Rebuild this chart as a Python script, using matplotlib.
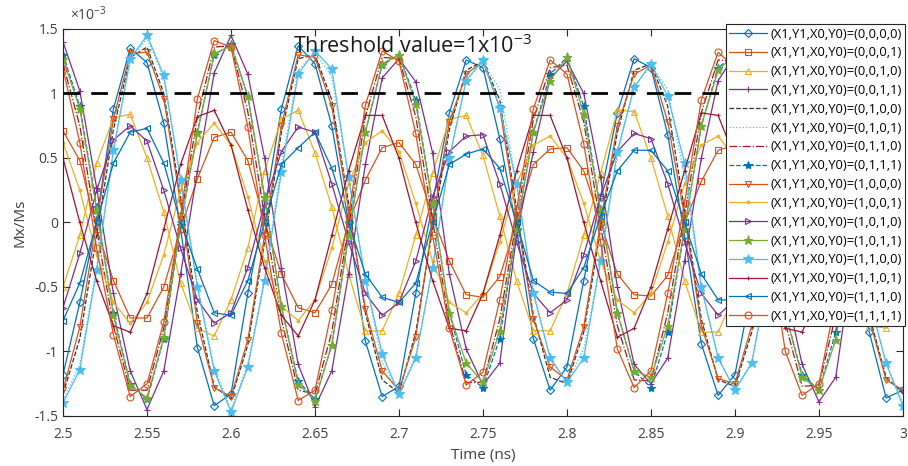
import numpy as np
import matplotlib.pyplot as plt

plt.rcParams['font.family'] = ['Open Sans', 'DejaVu Sans']
plt.rcParams['mathtext.fontset'] = 'custom'
plt.rcParams['mathtext.rm'] = 'Open Sans'
plt.rcParams['axes.unicode_minus'] = False

# time axis (ns), sampled every 10 ps
t = np.linspace(2.5, 3.0, 51)

# Mx/Ms in units of 1e-3
mx_0000 = [-1.18, -0.62, 0.02, 0.88, 1.35, 1.24, 0.77, -0.05, -0.97, -1.42,
           -1.33, -0.55, 0.10, 0.88, 1.37, 1.23, 0.75, 0.00, -0.92, -1.35,
           -1.27, -0.55, 0.15, 0.85, 1.26, 1.20, 0.65, -0.05, -0.90, -1.30,
           -1.12, -0.45, 0.20, 0.85, 1.27, 1.20, 0.68, -0.10, -0.94, -1.34,
           -1.18, -0.50, 0.15, 0.85, 1.25, 1.20, 0.65, -0.10, -0.85, -1.36,
           -1.30]
mx_0001 = [0.71, 0.48, -0.05, -0.45, -0.74, -0.74, -0.50, -0.05, 0.34, 0.66,
           0.70, 0.48, 0.00, -0.40, -0.66, -0.70, -0.48, 0.00, 0.33, 0.58,
           0.62, 0.45, 0.05, -0.30, -0.56, -0.58, -0.42, 0.00, 0.45, 0.57,
           0.58, 0.40, 0.00, -0.40, -0.56, -0.57, -0.41, 0.00, 0.32, 0.56,
           0.60, 0.40, 0.00, -0.40, -0.58, -0.58, -0.40, 0.00, 0.38, 0.58,
           0.62]
mx_0010 = [-0.50, -0.10, 0.46, 0.81, 0.84, 0.50, 0.08, -0.47, -0.82, -0.88,
           -0.60, -0.20, 0.40, 0.80, 0.87, 0.54, 0.12, -0.40, -0.84, -0.84,
           -0.55, -0.10, 0.38, 0.80, 0.83, 0.52, 0.05, -0.45, -0.84, -0.84,
           -0.55, -0.10, 0.38, 0.87, 0.86, 0.50, 0.05, -0.45, -0.85, -0.85,
           -0.55, -0.10, 0.38, 0.80, 0.82, 0.50, 0.05, -0.45, -0.80, -0.82,
           -0.55]
mx_0011 = [1.40, 1.02, 0.27, -0.55, -1.15, -1.45, -1.15, -0.40, 0.40, 1.16,
           1.45, 1.15, 0.50, -0.35, -1.10, -1.43, -1.15, -0.40, 0.45, 1.12,
           1.27, 1.09, 0.54, -0.40, -0.98, -1.26, -1.09, -0.10, 0.55, 1.12,
           1.25, 1.00, 0.35, -0.50, -1.10, -1.25, -1.05, -0.30, 0.50, 1.10,
           1.30, 1.05, 0.40, -0.50, -1.10, -1.39, -1.20, -0.30, 0.50, 1.10,
           1.30]
mx_0100 = [-1.33, -0.90, -0.10, 0.72, 1.28, 1.36, 1.00, 0.20, -0.70, -1.27,
           -1.37, -0.95, -0.15, 0.70, 1.27, 1.30, 0.95, 0.15, -0.70, -1.22,
           -1.32, -0.85, -0.05, 0.72, 1.18, 1.25, 0.95, 0.10, -0.72, -1.20,
           -1.25, -0.85, -0.05, 0.70, 1.18, 1.23, 0.90, 0.10, -0.75, -1.22,
           -1.27, -0.85, -0.05, 0.70, 1.18, 1.22, 0.90, 0.10, -0.72, -1.20,
           -1.32]
mx_0101 = [-1.38, -1.10, -0.35, 0.55, 1.25, 1.43, 1.12, 0.35, -0.48, -1.13,
           -1.45, -1.10, -0.43, 0.45, 1.18, 1.32, 1.13, 0.35, -0.45, -1.08,
           -1.33, -1.03, -0.35, 0.50, 1.10, 1.25, 1.03, 0.30, -0.53, -1.05,
           -1.24, -0.98, -0.30, 0.53, 1.05, 1.22, 1.03, 0.35, -0.50, -1.05,
           -1.30, -1.08, -0.40, 0.50, 1.08, 1.24, 1.00, 0.30, -0.58, -1.10,
           -1.40]
mx_0110 = [1.23, 0.75, -0.05, -0.80, -1.30, -1.30, -0.82, 0.02, 0.82, 1.36,
           1.37, 0.86, 0.05, -0.75, -1.30, -1.33, -0.85, -0.02, 0.82, 1.28,
           1.27, 0.82, 0.02, -0.78, -1.24, -1.24, -0.75, 0.02, 0.80, 1.20,
           1.22, 0.78, -0.02, -0.80, -1.22, -1.23, -0.70, 0.05, 0.85, 1.26,
           1.25, 0.75, -0.02, -0.78, -1.27, -1.26, -0.72, 0.05, 0.80, 1.25,
           1.25]
mx_0111 = [1.30, 0.90, 0.12, -0.70, -1.25, -1.37, -0.90, -0.02, 0.70, 1.30,
           1.38, 0.98, 0.20, -0.65, -1.23, -1.37, -0.95, -0.10, 0.70, 1.22,
           1.30, 0.95, 0.15, -0.70, -1.18, -1.28, -0.90, -0.05, 0.70, 1.15,
           1.28, 0.90, 0.10, -0.70, -1.15, -1.28, -0.85, -0.05, 0.75, 1.20,
           1.30, 0.90, 0.10, -0.70, -1.18, -1.30, -0.85, -0.05, 0.70, 1.20,
           1.30]
mx_1000 = [-1.30, -0.81, 0.00, 0.80, 1.31, 1.32, 0.96, 0.15, -0.78, -1.28,
           -1.35, -0.91, -0.10, 0.75, 1.30, 1.28, 0.90, 0.10, -0.67, -1.15,
           -1.30, -0.89, 0.00, 0.78, 1.15, 1.25, 0.89, 0.05, -0.75, -1.12,
           -1.22, -0.81, 0.00, 0.75, 1.15, 1.22, 0.78, 0.05, -0.80, -1.21,
           -1.25, -0.80, 0.00, 0.75, 1.20, 1.20, 0.85, 0.05, -0.75, -1.22,
           -1.30]
mx_1001 = [0.62, 0.25, -0.25, -0.62, -0.78, -0.62, -0.25, 0.25, 0.62, 0.77,
           0.60, 0.20, -0.30, -0.65, -0.76, -0.60, -0.20, 0.30, 0.62, 0.71,
           0.55, 0.15, -0.30, -0.62, -0.70, -0.55, -0.15, 0.30, 0.60, 0.67,
           0.50, 0.15, -0.30, -0.60, -0.70, -0.55, -0.15, 0.30, 0.60, 0.67,
           0.50, 0.15, -0.30, -0.60, -0.70, -0.55, -0.15, 0.30, 0.60, 0.68,
           0.50]
mx_1010 = [-0.66, -0.24, 0.25, 0.64, 0.75, 0.63, 0.25, -0.20, -0.60, -0.78,
           -0.70, -0.35, 0.15, 0.55, 0.74, 0.70, 0.30, -0.15, -0.55, -0.72,
           -0.62, -0.30, 0.20, 0.55, 0.67, 0.68, 0.30, -0.15, -0.55, -0.70,
           -0.60, -0.25, 0.20, 0.55, 0.69, 0.65, 0.30, -0.15, -0.55, -0.72,
           -0.60, -0.25, 0.20, 0.55, 0.70, 0.65, 0.30, -0.15, -0.55, -0.70,
           -0.60]
mx_1011 = [1.27, 0.88, 0.10, -0.72, -1.26, -1.36, -0.89, 0.00, 0.69, 1.31,
           1.37, 0.98, 0.20, -0.65, -1.25, -1.38, -0.95, -0.10, 0.70, 1.23,
           1.30, 0.92, 0.15, -0.70, -1.09, -1.24, -0.84, -0.05, 0.70, 1.10,
           1.28, 0.84, 0.10, -0.70, -1.15, -1.20, -0.80, -0.05, 0.75, 1.18,
           1.30, 0.90, 0.10, -0.70, -1.20, -1.30, -0.91, -0.05, 0.70, 1.20,
           1.30]
mx_1100 = [-1.40, -1.14, -0.37, 0.56, 1.27, 1.45, 1.14, 0.33, -0.50, -1.15,
           -1.47, -1.12, -0.45, 0.39, 1.15, 1.33, 1.19, 0.35, -0.45, -1.02,
           -1.33, -1.05, -0.35, 0.50, 1.10, 1.26, 0.89, 0.30, -0.55, -1.05,
           -1.24, -1.05, -0.30, 0.55, 1.05, 1.23, 0.98, 0.46, -0.50, -1.05,
           -1.30, -1.09, -0.40, 0.50, 1.10, 1.25, 1.00, 0.30, -0.60, -1.09,
           -1.42]
mx_1101 = [0.50, 0.00, -0.45, -0.80, -0.85, -0.55, -0.05, 0.45, 0.82, 0.87,
           0.60, 0.10, -0.35, -0.72, -0.88, -0.60, -0.10, 0.40, 0.83, 0.83,
           0.50, 0.00, -0.45, -0.82, -0.84, -0.55, -0.10, 0.40, 0.83, 0.83,
           0.50, 0.00, -0.45, -0.89, -0.82, -0.50, -0.05, 0.40, 0.85, 0.83,
           0.50, 0.00, -0.45, -0.82, -0.85, -0.55, -0.10, 0.40, 0.83, 0.85,
           0.50]
mx_1110 = [-0.76, -0.47, 0.00, 0.46, 0.70, 0.73, 0.46, 0.00, -0.36, -0.70,
           -0.72, -0.45, 0.00, 0.45, 0.58, 0.70, 0.42, 0.00, -0.40, -0.58,
           -0.62, -0.47, 0.00, 0.45, 0.53, 0.57, 0.42, 0.00, -0.45, -0.54,
           -0.55, -0.35, 0.05, 0.40, 0.56, 0.56, 0.40, 0.00, -0.40, -0.60,
           -0.60, -0.35, 0.05, 0.40, 0.55, 0.55, 0.40, 0.00, -0.40, -0.60,
           -0.60]
mx_1111 = [1.19, 0.62, -0.20, -0.87, -1.35, -1.25, -0.77, 0.05, 0.96, 1.41,
           1.36, 0.74, -0.10, -0.86, -1.38, -1.30, -0.68, 0.05, 0.91, 1.33,
           1.25, 0.69, -0.10, -0.82, -1.26, -1.16, -0.60, 0.10, 0.88, 1.26,
           1.15, 0.61, -0.15, -0.98, -1.28, -1.15, -0.55, 0.15, 0.95, 1.32,
           1.20, 0.60, -0.15, -1.00, -1.34, -1.25, -0.60, 0.15, 0.90, 1.30,
           1.20]

states = ['0,0,0,0', '0,0,0,1', '0,0,1,0', '0,0,1,1',
          '0,1,0,0', '0,1,0,1', '0,1,1,0', '0,1,1,1',
          '1,0,0,0', '1,0,0,1', '1,0,1,0', '1,0,1,1',
          '1,1,0,0', '1,1,0,1', '1,1,1,0', '1,1,1,1']
series = [mx_0000, mx_0001, mx_0010, mx_0011, mx_0100, mx_0101, mx_0110, mx_0111,
          mx_1000, mx_1001, mx_1010, mx_1011, mx_1100, mx_1101, mx_1110, mx_1111]
threshold = 1.0
xticks = [2.5, 2.55, 2.6, 2.65, 2.7, 2.75, 2.8, 2.85, 2.9, 2.95, 3.0]
yticks = [-1.5, -1, -0.5, 0, 0.5, 1, 1.5]

blue, orange, yellow, purple = '#0072BD', '#D95319', '#EDB120', '#7E2F8E'
green, cyan, darkred = '#77AC30', '#4DBEEE', '#A2142F'
# color, linestyle, marker, size, filled
styles = [(blue, '-', 'D', 4, False), (orange, '-', 's', 4.5, False),
          (yellow, '-', '^', 5, False), (purple, '-', '+', 5, False),
          ('#333333', '--', '', 0, False), (cyan, ':', '', 0, False),
          (darkred, '-.', '', 0, False), (blue, '--', '*', 6, True),
          (orange, '-', 'v', 5, False), (yellow, '-', '.', 4, True),
          (purple, '-', '>', 5, False), (green, '-', '*', 6.5, True),
          (cyan, '-', '*', 7, True), (darkred, '-', '+', 3, False),
          (blue, '-', '<', 5, False), (orange, '-', 'o', 5, False)]

fig = plt.figure(figsize=(9.08, 4.66), dpi=100)
ax = fig.add_axes([0.0694, 0.1073, 0.925, 0.8305])

for y, st, (c, ls, m, ms, filled) in zip(series, states, styles):
    ax.plot(t, y, color=c, ls=ls, lw=0.9, marker=m if m else None, ms=ms,
            mfc=c if filled else 'none', mec=c, mew=0.8,
            label='(X1,Y1,X0,Y0)=(' + st + ')')

leg = ax.legend(loc='upper right', bbox_to_anchor=(1.003, 1.012), fontsize=9.3,
                handlelength=2.9, labelspacing=0.45, borderaxespad=0,
                borderpad=0.25, handletextpad=0.3, fancybox=False,
                framealpha=1, edgecolor='#262626')
leg.get_frame().set_linewidth(0.8)
leg.set_zorder(30)

ax.axhline(threshold, color='k', ls='--', lw=2.0, dashes=(6, 4), zorder=10)
ax.text(2.637, 1.37, 'Threshold value=1x10$^{-3}$', fontsize=15.5,
        color='#1a1a1a', va='center', zorder=20)

ax.set_xlim(2.5, 3.0)
ax.set_ylim(-1.5, 1.5)
ax.set_xticks(xticks)
ax.set_xticklabels(['%g' % v for v in xticks])
ax.set_yticks(yticks)
ax.set_yticklabels(['%g' % v for v in yticks])
ax.tick_params(direction='in', top=True, right=True, length=5, width=0.8,
               labelsize=10, colors='#262626', labelcolor='#404040')
ax.tick_params(axis='x', pad=8)
for s in ax.spines.values():
    s.set_color('#262626')
    s.set_linewidth(0.8)
ax.text(0.008, 1.012, r'$\times$10$^{-3}$', transform=ax.transAxes,
        fontsize=10, color='#404040', va='bottom')
ax.set_xlabel('Time (ns)', fontsize=11, color='#404040', labelpad=4)
ax.set_ylabel('Mx/Ms', fontsize=11, color='#404040', labelpad=5)

fig.savefig('out.png', dpi=100)
